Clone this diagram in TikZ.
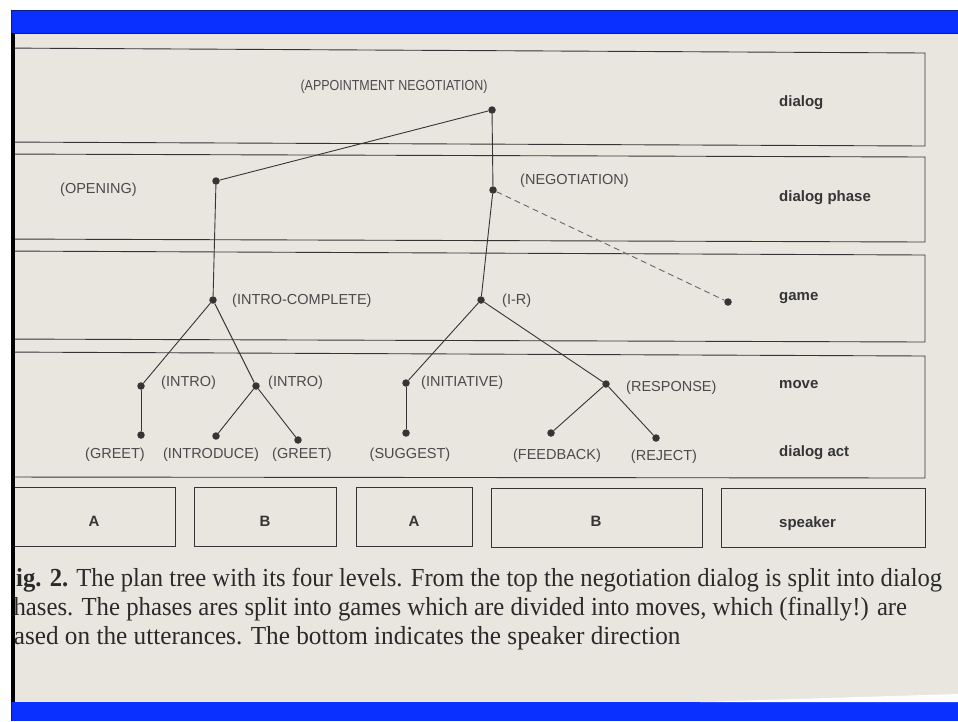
\documentclass[tikz,border=0pt]{standalone}
\usepackage{fontspec}
\setmainfont{Liberation Serif}
\setsansfont{Liberation Sans}
\definecolor{paper}{HTML}{E8E6DF}
\definecolor{scanblue}{HTML}{0A30FF}
\definecolor{bluerim}{HTML}{0A1A90}
\definecolor{ink}{HTML}{353535}
\definecolor{labelink}{HTML}{4A4A4A}
\definecolor{printink}{HTML}{2A2A2A}
\begin{document}
\begin{tikzpicture}[x=1pt,y=-1pt,
  levelbox/.style={draw=ink, line width=0.9pt},
  dot/.style={circle, fill=ink, inner sep=0pt, minimum size=7.5pt},
  branch/.style={draw=ink, line width=0.9pt},
  pending/.style={draw=ink!75, line width=0.9pt, dash pattern=on 6pt off 4pt},
  tag/.style={font=\sffamily\fontsize{14.5}{16}\selectfont, text=labelink, inner sep=0pt},
  level/.style={font=\sffamily\bfseries\fontsize{15}{17}\selectfont, text=ink, inner sep=0pt, anchor=west},
  who/.style={font=\sffamily\bfseries\fontsize{15}{17}\selectfont, text=ink, inner sep=0pt},
  captionline/.style={font=\fontsize{26}{29}\selectfont, text=printink, inner sep=0pt, anchor=base west}]

\useasboundingbox (0,0) rectangle (958,721);
\fill[white] (0,0) rectangle (958,721);
\fill[paper] (11,33) rectangle (958,702);

% blue bands at top and bottom
\filldraw[fill=scanblue, draw=bluerim, line width=0.8pt] (11,10) rectangle (960,33);
\fill[scanblue] (11,702) rectangle (958,721);
\draw[bluerim, line width=0.8pt] (11.4,702) -- (11.4,721);
% torn paper edge above the bottom band
\fill[white] (700,702) -- (958,702) -- (958,694) -- cycle;

\begin{scope}
\clip (11,33) rectangle (958,702);

% the four level bands and the speaker row
\draw[levelbox] (-5,48) -- (925,53) -- (925,146) -- (-5,142);
\draw[levelbox] (-5,154) -- (925,157) -- (925,242) -- (-5,239);
\draw[levelbox] (-5,251) -- (925,255) -- (925,342) -- (-5,339);
\draw[levelbox] (-5,352) -- (925,356) -- (925,478) -- (-5,477);

\draw[levelbox] (-5,487) rectangle (175,546);
\draw[levelbox] (194,487) rectangle (336,546);
\draw[levelbox] (356,487) rectangle (472,546);
\draw[levelbox] (491,488) rectangle (702,547);
\draw[levelbox] (721,488) rectangle (925,547);

% level names
\node[level] (lvdialog) at (779,103) {dialog};
\node[level] (lvphase)  at (779,198) {dialog phase};
\node[level] (lvgame)   at (779,298) {game};
\node[level] (lvmove)   at (779,385) {move};
\node[level] (lvact)    at (779,453) {dialog act};
\node[level] (lvspk)    at (779,524) {speaker};

% speakers
\node[who] (spA1) at (94,521) {A};
\node[who] (spB1) at (265,521) {B};
\node[who] (spA2) at (414,521) {A};
\node[who] (spB2) at (596,521) {B};

% plan tree
\node[dot] (appt)   at (492,110) {};
\node[dot] (open)   at (216,181) {};
\node[dot] (nego)   at (493,190) {};
\node[dot] (introc) at (213,300) {};
\node[dot] (ir)     at (481,300) {};
\node[dot] (later)  at (728,302) {};
\node[dot] (intro1) at (141,386) {};
\node[dot] (intro2) at (256,386) {};
\node[dot] (init)   at (406,383) {};
\node[dot] (resp)   at (606,384) {};
\node[dot] (greet1) at (141,435) {};
\node[dot] (introd) at (216,436) {};
\node[dot] (greet2) at (298,440) {};
\node[dot] (sugg)   at (406,433) {};
\node[dot] (feed)   at (551,433) {};
\node[dot] (rej)    at (656,438) {};

\draw[branch] (appt) -- (open);
\draw[branch] (appt) -- (nego);
\draw[branch] (open) -- (introc);
\draw[branch] (nego) -- (ir);
\draw[pending] (nego) -- (later);
\draw[branch] (introc) -- (intro1);
\draw[branch] (introc) -- (intro2);
\draw[branch] (intro1) -- (greet1);
\draw[branch] (intro2) -- (introd);
\draw[branch] (intro2) -- (greet2);
\draw[branch] (ir) -- (init);
\draw[branch] (ir) -- (resp);
\draw[branch] (init) -- (sugg);
\draw[branch] (resp) -- (feed);
\draw[branch] (resp) -- (rej);

% tree labels
\node[tag] (tappt)   at (394,87)  {\scalebox{0.86}[1]{(APPOINTMENT NEGOTIATION)}};
\node[tag, anchor=west] (topen)   at (60,190)  {(OPENING)};
\node[tag, anchor=west] (tnego)   at (520,181) {(NEGOTIATION)};
\node[tag, anchor=west] (tintroc) at (232,301) {(INTRO-COMPLETE)};
\node[tag, anchor=west] (tir)     at (502,301) {(I-R)};
\node[tag, anchor=west] (tintro1) at (161,383) {(INTRO)};
\node[tag, anchor=west] (tintro2) at (268,383) {(INTRO)};
\node[tag, anchor=west] (tinit)   at (421,383) {(INITIATIVE)};
\node[tag, anchor=west] (tresp)   at (626,388) {(RESPONSE)};
\node[tag] (tgreet1) at (115,455) {(GREET)};
\node[tag] (tintrod) at (211,455) {(INTRODUCE)};
\node[tag] (tgreet2) at (302,455) {(GREET)};
\node[tag] (tsugg)   at (410,455) {(SUGGEST)};
\node[tag] (tfeed)   at (557,456) {(FEEDBACK)};
\node[tag] (trej)    at (664,457) {(REJECT)};

% figure caption
\node[captionline] (cap1) at (1,586) {\scalebox{0.947}[1]{\textbf{Fig. 2.} The plan tree with its four levels. From the top the negotiation dialog is split into dialog}};
\node[captionline] (cap2) at (1,615) {\scalebox{0.952}[1]{phases. The phases ares split into games which are divided into moves, which (finally!) are}};
\node[captionline] (cap3) at (1,644) {\scalebox{0.971}[1]{based on the utterances. The bottom indicates the speaker direction}};
\end{scope}

% dark scan edge on the left
\fill[black] (11,33) rectangle (15,702);
\end{tikzpicture}
\end{document}
